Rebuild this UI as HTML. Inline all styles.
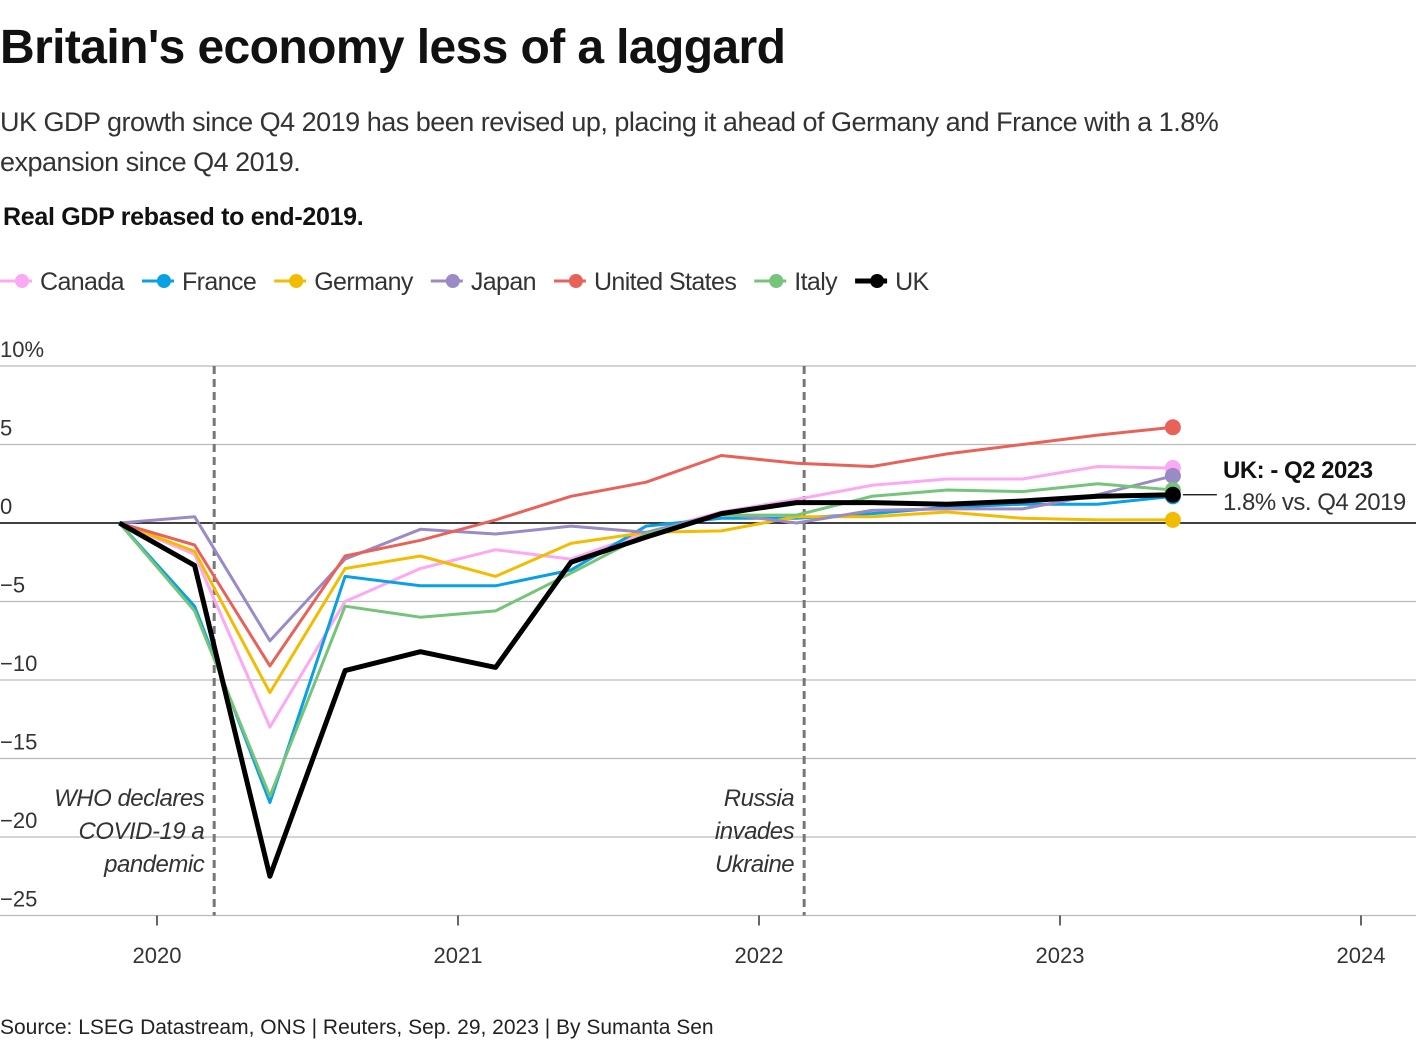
<!DOCTYPE html>
<html><head><meta charset="utf-8">
<style>
body{margin:0;background:#fff;font-family:"Liberation Sans",sans-serif;color:#222}
#wrap{position:relative;width:1420px;height:1050px;overflow:hidden}
.t{position:absolute;white-space:nowrap}
</style></head><body>
<div id="wrap">
<div class="t" style="left:0;top:20px;font-size:48px;font-weight:bold;letter-spacing:-0.6px;color:#111">Britain's economy less of a laggard</div>
<div class="t" style="left:0;top:102px;font-size:27px;line-height:40px;color:#333;letter-spacing:-0.5px;white-space:normal;width:1335px">UK GDP growth since Q4 2019 has been revised up, placing it ahead of Germany and France with a 1.8% expansion since Q4 2019.</div>
<div class="t" style="left:3px;top:203px;font-size:25px;font-weight:bold;color:#111;letter-spacing:-0.3px">Real GDP rebased to end-2019.</div>
<svg id="chart" width="1420" height="1050" style="position:absolute;left:0;top:0"></svg>
<div class="t" style="left:0;top:1016px;font-size:21px;color:#222;letter-spacing:0px">Source: LSEG Datastream, ONS | Reuters, Sep. 29, 2023 | By Sumanta Sen</div>
</div>
<script>
const quarters=["Q4 2019","Q1 2020","Q2 2020","Q3 2020","Q4 2020","Q1 2021","Q2 2021","Q3 2021","Q4 2021","Q1 2022","Q2 2022","Q3 2022","Q4 2022","Q1 2023","Q2 2023"];
const canada=[0,-2.0,-13.0,-5.0,-2.9,-1.7,-2.3,-0.6,0.7,1.5,2.4,2.8,2.8,3.6,3.5];
const france=[0,-5.3,-17.8,-3.4,-4.0,-4.0,-3.0,-0.2,0.3,0.3,0.6,1.0,1.2,1.2,1.7];
const germany=[0,-1.8,-10.8,-2.9,-2.1,-3.4,-1.3,-0.6,-0.5,0.4,0.4,0.7,0.3,0.2,0.2];
const japan=[0,0.4,-7.5,-2.3,-0.4,-0.7,-0.2,-0.6,0.6,0.0,0.8,0.9,0.9,1.8,3.0];
const us=[0,-1.4,-9.1,-2.1,-1.1,0.2,1.7,2.6,4.3,3.8,3.6,4.4,5.0,5.6,6.1];
const italy=[0,-5.6,-17.4,-5.3,-6.0,-5.6,-3.2,-0.7,0.5,0.5,1.7,2.1,2.0,2.5,2.1];
const uk=[0,-2.7,-22.5,-9.4,-8.2,-9.2,-2.5,-0.9,0.6,1.3,1.3,1.2,1.4,1.7,1.8];
const yTicks=[10,5,0,-5,-10,-15,-20,-25];
const yTickLabels=["10%","5","0","\u22125","\u221210","\u221215","\u221220","\u221225"];
const xYears=[2020,2021,2022,2023,2024];
const events=[{t:2020.19,label:["WHO declares","COVID-19 a","pandemic"]},{t:2022.15,label:["Russia","invades","Ukraine"]}];

const NS="http://www.w3.org/2000/svg";
const svg=document.getElementById('chart');
function y(v){return 523-v*15.7;}
function x(t){return 157+(t-2020)*301;}
function qt(i){return 2019.875+i*0.25;}
function el(tag,attrs,parent){const e=document.createElementNS(NS,tag);for(const k in attrs)e.setAttribute(k,attrs[k]);(parent||svg).appendChild(e);return e;}

yTicks.forEach((v,i)=>{
  const l=el('line',{x1:0,x2:1416,y1:y(v),y2:y(v),stroke:v===0?'#000':'#bbb','stroke-width':v===0?1.5:1.2});
  
  
  const t=el('text',{x:0,y:y(v)-9,'font-size':22,fill:'#333','font-family':'Liberation Sans'});
  t.textContent=yTickLabels[i];
  
  
});
xYears.forEach(yr=>{
  const l=el('line',{x1:x(yr),x2:x(yr),y1:y(-25),y2:y(-25)+10,stroke:'#333','stroke-width':1.5});
  
  
  const t=el('text',{x:x(yr),y:963,'font-size':22,fill:'#333','text-anchor':'middle','font-family':'Liberation Sans'});
  t.textContent=yr;
  
  
});
events.forEach(ev=>{
  const l=el('line',{x1:x(ev.t),x2:x(ev.t),y1:y(10),y2:y(-25),stroke:'#777','stroke-width':3,'stroke-dasharray':'8,5'});
  
  
  ev.label.forEach((s,j)=>{
    const t=el('text',{x:x(ev.t)-10,y:806+j*33,'font-size':24,fill:'#333','text-anchor':'end','font-style':'italic','font-family':'Liberation Sans','letter-spacing':'-0.5'});
    t.textContent=s;
    
    
  });
});
const series=[
 {name:'Canada',d:canada,c:'#fca8f2',w:3},
 {name:'France',d:france,c:'#0aa1e4',w:3},
 {name:'Germany',d:germany,c:'#f2bd00',w:3},
 {name:'Japan',d:japan,c:'#9a8ac6',w:3},
 {name:'United States',d:us,c:'#e8625a',w:3},
 {name:'Italy',d:italy,c:'#76c47a',w:3},
 {name:'UK',d:uk,c:'#000',w:5}];
series.forEach(s=>{
  const pts=s.d.map((v,i)=>x(qt(i)).toFixed(1)+','+y(v).toFixed(1)).join(' ');
  const p=el('polyline',{points:pts,fill:'none',stroke:s.c,'stroke-width':s.w,'stroke-linejoin':'round'});
  
  
  const n=s.d.length-1;
  const c=el('circle',{cx:x(qt(n)),cy:y(s.d[n]),r:8,fill:s.c});
  
  
});
const ukEnd=uk[uk.length-1];
const al=el('line',{x1:x(qt(14))+10,x2:x(qt(14))+44,y1:y(ukEnd),y2:y(ukEnd),stroke:'#000','stroke-width':1.2});


const a1=el('text',{x:1223,y:478,'font-size':24,'font-weight':'bold',fill:'#111','font-family':'Liberation Sans','letter-spacing':'-0.5'});
a1.textContent='UK: - Q2 2023';


const a2=el('text',{x:1223,y:510,'font-size':24,fill:'#333','font-family':'Liberation Sans','letter-spacing':'-0.5'});
a2.textContent=ukEnd+'% vs. Q4 2019';


let lx=0;
series.forEach((s,i)=>{
  const g=el('g',{});
  
  
  el('line',{x1:lx,x2:lx+32,y1:281,y2:281,stroke:s.c,'stroke-width':s.w},g);
  el('circle',{cx:lx+22,cy:281,r:7,fill:s.c},g);
  const t=el('text',{x:lx+40,y:290,'font-size':25,fill:'#333','font-family':'Liberation Sans','letter-spacing':'-0.6'},g);
  t.textContent=s.name;
  lx+=40+t.getComputedTextLength()+18;
});
</script>
</body></html>
